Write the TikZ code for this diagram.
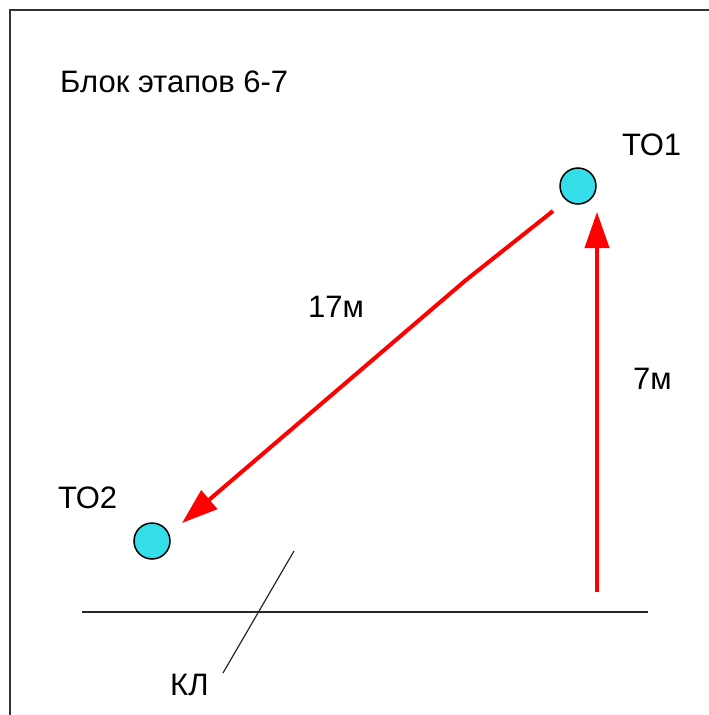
\documentclass[tikz,border=0pt]{standalone}
\usepackage{fontspec}
\setmainfont{Liberation Sans}
\usetikzlibrary{arrows.meta}
\definecolor{pointcyan}{RGB}{52,222,232}
\tikzset{
  point/.style={circle,draw=black,line width=1.5pt,fill=pointcyan,minimum size=36pt,inner sep=0pt},
  lbl/.style={font=\fontsize{31}{37}\selectfont,inner sep=0pt,anchor=base west},
  route/.style={draw=red,line width=4pt,-{Triangle[length=36pt,width=24pt]}},
  cable/.style={line width=1.2pt,black!85},
}

\begin{document}
\begin{tikzpicture}[x=1pt,y=-1pt]
\useasboundingbox (0,0) rectangle (709,715);
\draw[line width=1.5pt,black!80] (10,715) -- (10,10) -- (709,10);
\node[lbl] (title) at (60,92) {Блок этапов 6-7};
\node[point] (to1) at (578,186) {};
\node[point] (to2) at (152,541) {};
\node[lbl] (to1lbl) at (622,155) {ТО1};
\node[lbl] (to2lbl) at (58,508) {ТО2};
\coordinate (r1a) at (553,211);
\coordinate (r1b) at (466,280);
\coordinate (r1c) at (182,523);
\coordinate (r2a) at (597,592);
\coordinate (r2b) at (597,212);
\draw[route] (r1a) -- (r1b) -- (r1c);
\draw[route] (r2a) -- (r2b);
\node[lbl] (d17) at (308,317) {17м};
\node[lbl] (d7) at (633,389) {7м};
\coordinate (kla) at (82,612);
\coordinate (klb) at (648,612);
\coordinate (klc) at (294,551);
\coordinate (kld) at (223,673);
\draw[cable] (kla) -- (klb);
\draw[cable] (klc) -- (kld);
\node[lbl] (kl) at (170,695) {КЛ};
\end{tikzpicture}
\end{document}
